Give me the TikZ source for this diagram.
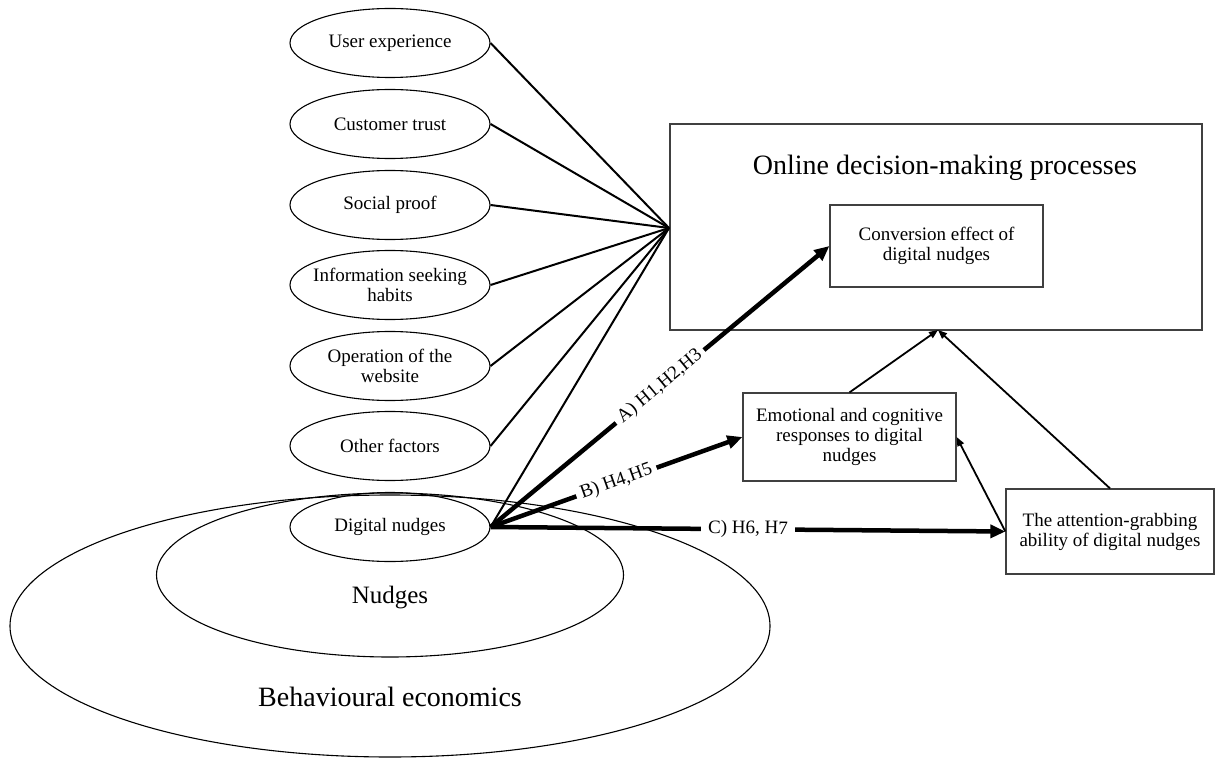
\documentclass[tikz,border=0pt]{standalone}
\usepackage{fontspec}
\setmainfont{Liberation Serif}
\usetikzlibrary{shapes.geometric,arrows.meta}
\begin{document}
\begin{tikzpicture}[x=1pt,y=-1pt,
 factor/.style={ellipse,draw,line width=1.1pt,minimum width=200pt,minimum height=69pt,inner xsep=-16pt,inner ysep=0pt,align=center,font=\fontsize{19}{20}\selectfont},
 region/.style={ellipse,draw,line width=1.1pt,inner sep=0pt},
 box/.style={draw=black!75,line width=1.2pt,align=center,inner sep=0pt,font=\fontsize{19}{20}\selectfont},
 link/.style={line width=2pt},
 bigarrow/.style={line width=4.5pt,-{Triangle[length=15pt,width=13pt]}},
 smallarrow/.style={line width=1.8pt,-{Triangle[length=9pt,width=7pt]}},
 lab/.style={fill=white,inner sep=5pt,font=\fontsize{19}{20}\selectfont,sloped}
]
\useasboundingbox (0,0) rectangle (1217,759);

% regions
\node[region,minimum width=760pt,minimum height=262pt] (be) at (390,626) {};
\node[region,minimum width=467pt,minimum height=164pt] (nu) at (390,575) {};
\node[font=\fontsize{28}{30}\selectfont] (betext) at (390,697) {Behavioural economics};
\node[font=\fontsize{25}{27}\selectfont] (nutext) at (390,598) {Nudges};

% factors
\node[factor] (ue) at (390,43) {User experience};
\node[factor] (ct) at (390,124) {Customer trust};
\node[factor] (sp) at (390,205) {Social proof};
\node[factor] (is) at (390,285) {Information seeking\\habits};
\node[factor] (op) at (390,366) {Operation of the\\website};
\node[factor] (of) at (390,446) {Other factors};
\node[factor] (dn) at (390,527) {Digital nudges};

% boxes
\node[box,minimum width=532pt,minimum height=206pt] (odm) at (936,227) {};
\node[font=\fontsize{28}{30}\selectfont] (odmtitle) at (945,168) {Online decision-making processes};
\node[box,minimum width=213pt,minimum height=82pt] (conv) at (936.5,246) {Conversion effect of\\digital nudges};
\node[box,minimum width=213pt,minimum height=88pt] (emo) at (849.5,437) {Emotional and cognitive\\responses to digital\\nudges};
\node[box,minimum width=208pt,minimum height=85pt] (att) at (1110,531.5) {The attention-grabbing\\ability of digital nudges};

% hub of thin links
\coordinate (hub) at (669,228);
\foreach \n in {ue,ct,sp,is,op,of,dn} \draw[link] (\n.east) -- (hub);

% hypotheses
\draw[bigarrow] (dn.east) -- node[lab]{A) H1,H2,H3} (conv.west);
\draw[bigarrow] (dn.east) -- node[lab]{B) H4,H5} (emo.west);
\draw[bigarrow] (dn.east) -- node[lab,inner sep=7pt]{C) H6, H7} (att.west);

% thin arrows
\coordinate (odmin) at (938,330);
\draw[smallarrow] (emo.north) -- (odmin);
\draw[smallarrow] (att.north) -- (odmin);
\draw[smallarrow] (att.west) -- (emo.east);
\end{tikzpicture}
\end{document}
